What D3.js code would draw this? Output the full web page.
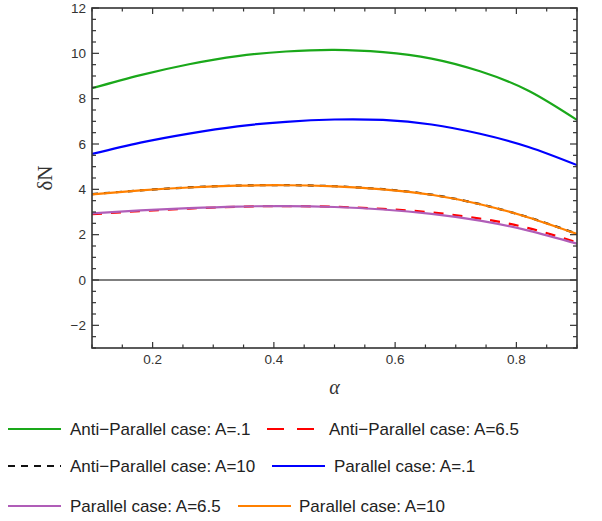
<!DOCTYPE html>
<html><head><meta charset="utf-8">
<script src="https://cdn.jsdelivr.net/npm/d3@7"></script>
<style>body{margin:0;background:#fff}svg{display:block}</style>
</head><body><svg id="c" width="602" height="521"></svg>
<script>
const alpha = [0.1, 0.18, 0.26, 0.34, 0.42, 0.5, 0.58, 0.66, 0.74, 0.82, 0.9];
const apA01  = [8.46, 9.04, 9.52, 9.88, 10.08, 10.15, 10.05, 9.77, 9.21, 8.35, 7.06];
const apA65  = [2.90, 3.04, 3.15, 3.23, 3.26, 3.23, 3.14, 2.98, 2.71, 2.29, 1.66];
const apA10  = [3.785, 3.955, 4.085, 4.165, 4.185, 4.135, 4.005, 3.765, 3.345, 2.765, 2.035];
const pA01   = [5.56, 6.06, 6.46, 6.78, 6.98, 7.08, 7.06, 6.86, 6.45, 5.87, 5.07];
const pA65   = [2.94, 3.07, 3.17, 3.24, 3.26, 3.22, 3.11, 2.92, 2.62, 2.18, 1.60];
const pA10   = [3.78, 3.95, 4.08, 4.16, 4.18, 4.13, 4.00, 3.76, 3.34, 2.76, 2.03];
const seriesNames = ["Anti\u2212Parallel case: A=.1","Anti\u2212Parallel case: A=6.5","Anti\u2212Parallel case: A=10","Parallel case: A=.1","Parallel case: A=6.5","Parallel case: A=10"];
const xTicks = [0.2, 0.4, 0.6, 0.8];
const yTicks = [-2, 0, 2, 4, 6, 8, 10, 12];

const series = [
  {name: seriesNames[0], values: apA01, color: "#1aa81a", dash: null},
  {name: seriesNames[1], values: apA65, color: "#ff0000", dash: "10,9"},
  {name: seriesNames[2], values: apA10, color: "#111111", dash: "6,6"},
  {name: seriesNames[3], values: pA01, color: "#0000ff", dash: null},
  {name: seriesNames[4], values: pA65, color: "#b05db8", dash: null},
  {name: seriesNames[5], values: pA10, color: "#ff8000", dash: null}
];

const svg = d3.select("#c");
const L = 92, R = 577, T = 8, B = 348;
const x = d3.scaleLinear().domain([0.1, 0.9]).range([L, R]);
const y = d3.scaleLinear().domain([-3, 12]).range([B, T]);
const axisColor = "#333";
const font = "'Liberation Sans', Arial, sans-serif";

svg.append("defs").append("clipPath").attr("id","clip")
  .append("rect").attr("x",L).attr("y",T).attr("width",R-L).attr("height",B-T);

// zero line
svg.append("line").attr("x1",L).attr("x2",R).attr("y1",y(0)).attr("y2",y(0))
  .attr("stroke","#000").attr("stroke-width",1.1);

// curves
const line = d3.line().x((d,i)=>x(alpha[i])).y(d=>y(d)).curve(d3.curveNatural);
const g = svg.append("g").attr("clip-path","url(#clip)");
series.forEach(s => {
  g.append("path").attr("d", line(s.values)).attr("fill","none")
    .attr("stroke", s.color).attr("stroke-width", 2.2)
    .attr("stroke-dasharray", s.dash);
});

// frame & ticks
const xMinor = d3.range(0.1, 0.9001, 0.05).map(v=>+v.toFixed(2)).filter(v=>!xTicks.includes(v));
const yMinor = d3.range(-3, 12.001, 0.5).filter(v=>!yTicks.includes(v));
const ax = svg.append("g").attr("stroke", axisColor).attr("stroke-width",1.2);
xTicks.forEach(v=>{
  ax.append("line").attr("x1",x(v)).attr("x2",x(v)).attr("y1",B).attr("y2",B-6);
  ax.append("line").attr("x1",x(v)).attr("x2",x(v)).attr("y1",T).attr("y2",T+6);
});
xMinor.forEach(v=>{
  ax.append("line").attr("x1",x(v)).attr("x2",x(v)).attr("y1",B).attr("y2",B-3.5);
  ax.append("line").attr("x1",x(v)).attr("x2",x(v)).attr("y1",T).attr("y2",T+3.5);
});
yTicks.forEach(v=>{
  ax.append("line").attr("x1",L).attr("x2",L+7).attr("y1",y(v)).attr("y2",y(v));
  ax.append("line").attr("x1",R).attr("x2",R-7).attr("y1",y(v)).attr("y2",y(v));
});
yMinor.forEach(v=>{
  ax.append("line").attr("x1",L).attr("x2",L+4).attr("y1",y(v)).attr("y2",y(v));
  ax.append("line").attr("x1",R).attr("x2",R-4).attr("y1",y(v)).attr("y2",y(v));
});
svg.append("rect").attr("x",L).attr("y",T).attr("width",R-L).attr("height",B-T)
  .attr("fill","none").attr("stroke",axisColor).attr("stroke-width",1.6);

// tick labels
xTicks.forEach(v=>{
  svg.append("text").attr("x",x(v)).attr("y",364).attr("text-anchor","middle")
    .attr("font-family",font).attr("font-size",13.5).attr("fill","#333").text(d3.format(".1f")(v));
});
yTicks.forEach(v=>{
  svg.append("text").attr("x",L-6).attr("y",y(v)+4.8).attr("text-anchor","end")
    .attr("font-family",font).attr("font-size",13.5).attr("fill","#333").text(v<0?"\u2212"+Math.abs(v):v);
});

// axis labels
svg.append("text").attr("transform","translate(52,178) rotate(-90)").attr("text-anchor","middle")
  .attr("font-family","'Liberation Serif','Times New Roman',serif").attr("font-size",21).attr("fill","#333").text("\u03B4N");
svg.append("text").attr("x",(L+R)/2).attr("y",394).attr("text-anchor","middle")
  .attr("font-family","'Liberation Serif','Times New Roman',serif").attr("font-style","italic")
  .attr("font-size",20).attr("fill","#333").text("\u03B1");

// legend
const legendPos = [
  {lx:8, tx:70, y:429},
  {lx:267, tx:329, y:429},
  {lx:8, tx:70, y:466},
  {lx:272, tx:334, y:466},
  {lx:8, tx:70, y:506},
  {lx:238, tx:299, y:506}
];
series.forEach((s,i)=>{
  const p = legendPos[i];
  const dash = i===1 ? "17,13" : (i===2 ? "7,6" : null);
  svg.append("line").attr("x1",p.lx).attr("x2",p.lx+53).attr("y1",p.y).attr("y2",p.y)
    .attr("stroke",s.color).attr("stroke-width",2.2).attr("stroke-dasharray",dash);
  svg.append("text").attr("x",p.tx).attr("y",p.y+6).attr("font-family",font).attr("font-size",17)
    .attr("fill","#222").text(s.name);
});
</script></body></html>
